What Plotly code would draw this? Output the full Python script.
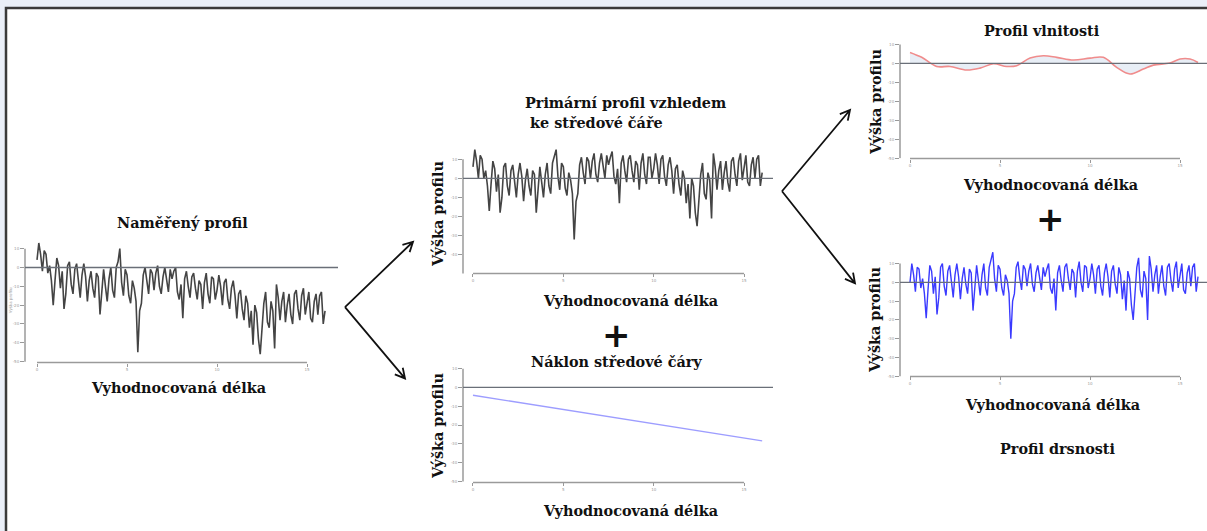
import math
import plotly.graph_objects as go

W, H = 1207, 531

# ---------------- data ----------------
x_dense = [i / 10 for i in range(161)]  # evaluation length 0 .. 16

measured = [
    4, 13, 7, -2, 9, 7, -3, 1, -7, -20,
    -7, 5, 1, -11, -2, -22, -14, 1, 3, -9,
    -14, -1, 2, -7, -16, -4, 2, -5, -18, -7,
    -2, -11, -16, -3, -5, -25, -14, -1, -10, -18,
    -6, 0, -12, -16, 0, 3, 10, -8, -15, -1,
    -4, -15, -19, -7, -11, -18, -45, -23, -19, -4,
    0, -8, -14, -1, -3, -12, -3, 1, -10, -14,
    -5, 0, -8, -13, -1, -6, -2, 0, -13, -17,
    -9, -27, -6, -2, -10, -16, -5, -3, -11, -17,
    -7, -9, -22, -8, -3, -14, -19, -5, -6, -17,
    -12, -4, -10, -20, -8, -6, -17, -22, -11, -7,
    -15, -27, -14, -12, -22, -28, -15, -19, -32, -23,
    -41, -20, -24, -38, -46, -30, -19, -13, -29, -32,
    -18, -23, -43, -9, -16, -28, -18, -13, -29, -20,
    -14, -25, -30, -14, -12, -22, -28, -15, -11, -25,
    -18, -13, -27, -29, -18, -14, -25, -15, -13, -30, -23,
]

primary = [
    6, 15, 9, 0, 12, 10, 0, 4, -4, -17,
    -3, 9, 5, -7, 2, -18, -10, 6, 8, -4,
    -9, 4, 7, -2, -10, 2, 8, 1, -12, -1,
    5, -4, -9, 4, 2, -18, -7, 6, -2, -10,
    2, 8, -4, -8, 8, 12, 15, 1, -6, 8,
    6, -5, -9, 3, -1, -8, -32, -12, -8, 7,
    11, 3, -3, 11, 9, 0, 9, 13, 2, -2,
    8, 13, 5, 0, 12, 7, 11, 14, 1, -3,
    5, -13, 8, 12, 4, -2, 10, 12, 4, -2,
    9, 7, -6, 8, 13, 2, -3, 11, 11, 0,
    5, 13, 7, -3, 10, 12, 1, -4, 7, 11,
    4, -8, 5, 7, -3, -9, 4, 0, -13, -3,
    -21, 0, -4, -18, -25, -9, 2, 8, -8, -11,
    3, -1, -21, 13, 6, -6, 4, 9, -6, 3,
    9, -2, -7, 9, 11, 2, -4, 9, 13, -1,
    6, 12, -2, -4, 7, 11, 0, 10, 12, -4, 3,
]

roughness = [
    0, 10, 4, -5, 8, 7, -3, 2, -6, -19,
    -4, 9, 6, -6, 3, -17, -8, 8, 10, -2,
    -7, 6, 9, 0, -8, 4, 10, 3, -9, 2,
    8, -1, -6, 7, 5, -15, -4, 9, 1, -7,
    4, 10, -3, -7, 8, 12, 16, 2, -5, 9,
    7, -3, -7, 4, 1, -6, -30, -10, -6, 8,
    11, 2, -4, 9, 7, -2, 6, 10, -1, -5,
    5, 9, 1, -4, 8, 3, 7, 10, -3, -6,
    2, -15, 5, 9, 1, -5, 8, 10, 2, -4,
    7, 5, -8, 6, 11, 0, -5, 9, 8, -3,
    2, 10, 4, -6, 7, 9, -2, -7, 5, 10,
    3, -8, 6, 9, -1, -6, 8, 4, -9, 1,
    -15, 6, 2, -12, -20, -3, 8, 13, -4, -8,
    6, 2, -20, 14, 7, -5, 4, 9, -6, 3,
    9, -2, -7, 8, 10, 1, -5, 7, 11, -3,
    4, 10, -4, -6, 5, 9, -2, 8, 10, -5, 3,
]

waviness_x = [0, 0.65, 1.48, 2.22, 3.15, 3.89, 4.63, 5.37, 5.93, 6.67, 7.41, 8.15,
              9.07, 10.0, 10.74, 11.48, 12.22, 12.96, 13.52, 14.44, 15.0, 15.56, 16.0]
waviness_y = [5.8, 3.2, -1.6, -1.6, -3.5, -2.5, -0.2, -1.6, -1.2, 2.8, 4.0, 3.2,
              1.8, 2.8, 3.2, -2.1, -5.6, -3.0, -0.9, 0.2, 2.3, 2.3, 0.5]

slope_x = [0, 16]
slope_y = [-4.2, -28.4]

y_ticks = [10, 0, -10, -20, -30, -40, -50]
y_tick_labels = ["10", "0", "-10", "-20", "-30", "-40", "-50"]
x_ticks = [0, 5, 10, 15]
x_tick_labels = ["0", "5", "10", "15"]

# ---------------- layout helpers ----------------
def pxx(p):
    return p / W


def pxy(p):
    return 1 - p / H


SERIF = "DejaVu Serif"
TXT = "#111111"
FS = 14.4

# panels: (left, right, top, bottom) px, x range, y range
panels = [
    dict(box=(25, 338, 236, 363), xr=[-0.667, 16.72], yr=[-50.5, 16.3]),
    dict(box=(463, 773, 142, 273), xr=[-0.553, 16.6], yr=[-49.7, 18.1]),
    dict(box=(463, 773, 369, 484), xr=[-0.553, 16.6], yr=[-50.5, 10.0]),
    dict(box=(900, 1207, 40, 157), xr=[-0.556, 16.5], yr=[-50.1, 10.95]),
    dict(box=(900, 1207, 248, 377), xr=[-0.556, 16.5], yr=[-50.0, 17.9]),
]

fig = go.Figure()
layout = dict(
    width=W, height=H,
    margin=dict(l=0, r=0, t=0, b=0),
    paper_bgcolor="#eaeff8",
    plot_bgcolor="rgba(0,0,0,0)",
    showlegend=False,
)

shapes = [
    dict(type="rect", xref="paper", yref="paper", x0=pxx(6), x1=pxx(1215), y0=pxy(540), y1=pxy(5),
         fillcolor="white", line=dict(color="#3a3a3a", width=2.5), layer="below"),
]

tick_font = dict(family="DejaVu Sans", size=4, color="#9a9a9a")

for i, p in enumerate(panels):
    n = "" if i == 0 else str(i + 1)
    l, r, t, b = p["box"]
    layout["xaxis" + n] = dict(
        domain=[pxx(l), pxx(r)], range=p["xr"], anchor="y" + n,
        tickvals=x_ticks, ticktext=x_tick_labels, ticks="outside", ticklen=3,
        tickcolor="#999", tickfont=tick_font, showgrid=False, zeroline=False,
        showline=False, fixedrange=True,
    )
    layout["yaxis" + n] = dict(
        domain=[pxy(b), pxy(t)], range=p["yr"], anchor="x" + n,
        tickvals=y_ticks, ticktext=y_tick_labels, ticks="outside", ticklen=4,
        tickcolor="#999", tickfont=tick_font, showgrid=False, zeroline=False,
        showline=False, fixedrange=True,
    )
    # x axis line (0..15)
    shapes.append(dict(type="line", xref="x" + n, yref="paper", x0=0, x1=15,
                       y0=pxy(b), y1=pxy(b), line=dict(color="#9a9a9a", width=1.5)))
    # y axis line (10..-50)
    shapes.append(dict(type="line", xref="paper", yref="y" + n, x0=pxx(l), x1=pxx(l),
                       y0=-50, y1=10, line=dict(color="#9a9a9a", width=1.5)))
    # mean line
    shapes.append(dict(type="line", xref="x" + n + " domain", yref="y" + n, x0=0, x1=1,
                       y0=0, y1=0, line=dict(color="#6a6f78", width=1.3)))

layout["shapes"] = shapes

# traces
fig.add_trace(go.Scatter(x=x_dense, y=measured, mode="lines", xaxis="x", yaxis="y",
                         line=dict(color="#444444", width=1.6)))
fig.add_trace(go.Scatter(x=x_dense, y=primary, mode="lines", xaxis="x2", yaxis="y2",
                         line=dict(color="#444444", width=1.6)))
fig.add_trace(go.Scatter(x=slope_x, y=slope_y, mode="lines", xaxis="x3", yaxis="y3",
                         line=dict(color="#9d9dff", width=1.4)))
fig.add_trace(go.Scatter(x=waviness_x, y=waviness_y, mode="lines", xaxis="x4", yaxis="y4",
                         line=dict(color="#f08c8c", width=1.6, shape="spline"),
                         fill="tozeroy", fillcolor="rgba(205,218,236,0.45)"))
fig.add_trace(go.Scatter(x=x_dense, y=roughness, mode="lines", xaxis="x5", yaxis="y5",
                         line=dict(color="#3a3aff", width=1.4)))

# ---------------- texts ----------------
ann = []


def text(s, x, y, size=FS, angle=0, xanchor="center", family=SERIF, color=TXT):
    ann.append(dict(text=s, xref="paper", yref="paper", x=pxx(x), y=pxy(y),
                    xanchor=xanchor, yanchor="middle", showarrow=False, textangle=angle,
                    font=dict(family=family, size=size, color=color)))


B = lambda s: "<b>" + s + "</b>"

text(B("Naměřený profil"), 182, 222)
text(B("Vyhodnocovaná délka"), 178, 388)
text("Výška profilu", 10, 300, size=4, angle=-90, family="DejaVu Sans", color="#9a9a9a")

text(B("Primární profil vzhledem"), 523, 100, xanchor="left")
text(B("ke středové čáře"), 528, 121, xanchor="left")
text(B("Vyhodnocovaná délka"), 630, 300)
text(B("Výška profilu"), 438, 213, angle=-90)

text(B("+"), 616, 335, size=34, family="DejaVu Sans")
text(B("Náklon středové čáry"), 617, 362)
text(B("Vyhodnocovaná délka"), 630, 512)
text(B("Výška profilu"), 438, 427, angle=-90)

text(B("Profil vlnitosti"), 1042, 28)
text(B("Vyhodnocovaná délka"), 1050, 183)
text(B("Výška profilu"), 875, 100, angle=-90)

text(B("+"), 1050, 218, size=34, family="DejaVu Sans")
text(B("Vyhodnocovaná délka"), 1052, 405)
text(B("Výška profilu"), 875, 320, angle=-90)
text(B("Profil drsnosti"), 1057, 450)

layout["annotations"] = ann

# ---------------- arrows (open V heads) ----------------
arrows = [((345, 307), (413, 241)), ((345, 307), (405, 379)),
          ((782, 190), (850, 108)), ((782, 190), (855, 283))]
for (x0, y0), (x1, y1) in arrows:
    ang = math.atan2(y0 - y1, x0 - x1)
    hl, spread = 11, math.radians(28)
    hx1 = x1 + hl * math.cos(ang + spread)
    hy1 = y1 + hl * math.sin(ang + spread)
    hx2 = x1 + hl * math.cos(ang - spread)
    hy2 = y1 + hl * math.sin(ang - spread)
    path = (f"M {pxx(x0)},{pxy(y0)} L {pxx(x1)},{pxy(y1)} "
            f"M {pxx(hx1)},{pxy(hy1)} L {pxx(x1)},{pxy(y1)} L {pxx(hx2)},{pxy(hy2)}")
    layout["shapes"].append(dict(type="path", xref="paper", yref="paper", path=path,
                                 line=dict(color="#111", width=1.8)))

fig.update_layout(**layout)
fig.write_html("out.html", config={"displayModeBar": False},
               post_script="document.body.style.margin='0px';")
